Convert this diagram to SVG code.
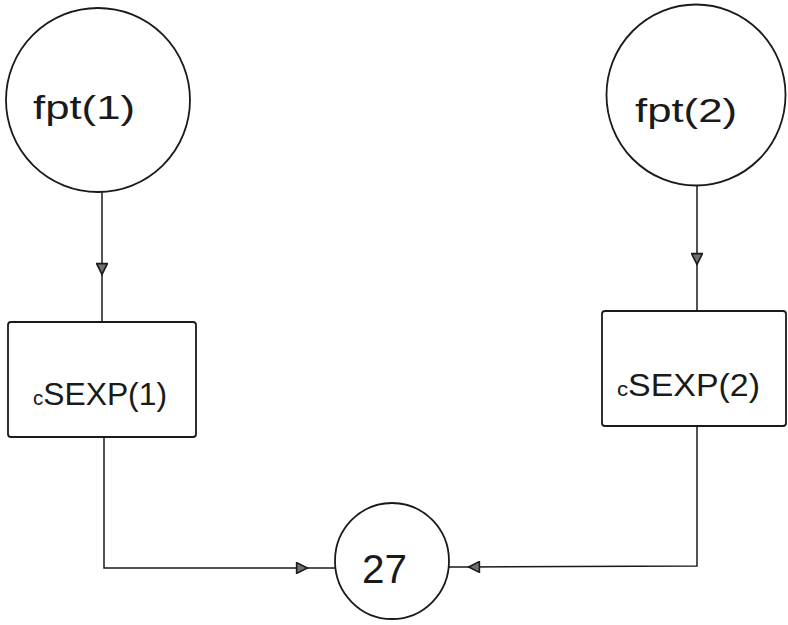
<svg xmlns="http://www.w3.org/2000/svg" width="788" height="625" viewBox="0 0 788 625">
  <style>
    .shape { fill: none; stroke: #1a1a1a; stroke-width: 1.8; }
    .conn { fill: none; stroke: #1a1a1a; stroke-width: 1.5; }
    .lbl { font-family: "Liberation Sans", "DejaVu Sans", sans-serif; fill: #1a1a1a; font-weight: normal; }
  </style>
  <defs>
    <marker id="arr" viewBox="0 0 10 10" refX="10" refY="5" markerWidth="15" markerHeight="12" markerUnits="userSpaceOnUse" orient="auto">
      <path d="M0.5,0.5 L9.5,5 L0.5,9.5 Z" fill="#707070" stroke="#1a1a1a" stroke-width="1.3"/>
    </marker>
  </defs>
  <rect width="788" height="625" fill="#ffffff"/>

  <g id="fpt1">
    <ellipse class="shape" cx="98" cy="100" rx="92" ry="92"/>
    <text class="lbl" x="33" y="119" font-size="34" textLength="102" lengthAdjust="spacingAndGlyphs">fpt(1)</text>
  </g>
  <g id="fpt2">
    <ellipse class="shape" cx="696" cy="95" rx="89.5" ry="90.5"/>
    <text class="lbl" x="635" y="122" font-size="34" textLength="102" lengthAdjust="spacingAndGlyphs">fpt(2)</text>
  </g>
  <g id="csexp1">
    <rect class="shape" x="8" y="322" width="188" height="115" rx="3"/>
    <text class="lbl" x="33" y="405" font-size="31" textLength="134" lengthAdjust="spacingAndGlyphs"><tspan font-size="20">c</tspan>SEXP(1)</text>
  </g>
  <g id="csexp2">
    <rect class="shape" x="602" y="311" width="184" height="115" rx="3"/>
    <text class="lbl" x="617" y="396" font-size="32" textLength="143" lengthAdjust="spacingAndGlyphs"><tspan font-size="21">c</tspan>SEXP(2)</text>
  </g>
  <g id="n27">
    <ellipse class="shape" cx="392" cy="561" rx="57" ry="58"/>
    <text class="lbl" x="362" y="583" font-size="40" textLength="45" lengthAdjust="spacingAndGlyphs">27</text>
  </g>

  <g id="connectors">
    <path class="conn" d="M102,192 L102,275" marker-end="url(#arr)"/>
    <path class="conn" d="M102,275 L102,322"/>
    <path class="conn" d="M697,185 L697,265" marker-end="url(#arr)"/>
    <path class="conn" d="M697,265 L697,311"/>
    <path class="conn" d="M104,437 L104,568 L308,568" marker-end="url(#arr)"/>
    <path class="conn" d="M308,568 L336,568"/>
    <path class="conn" d="M697,426 L697,566 L468,567" marker-end="url(#arr)"/>
    <path class="conn" d="M468,567 L449,567"/>
  </g>
</svg>
